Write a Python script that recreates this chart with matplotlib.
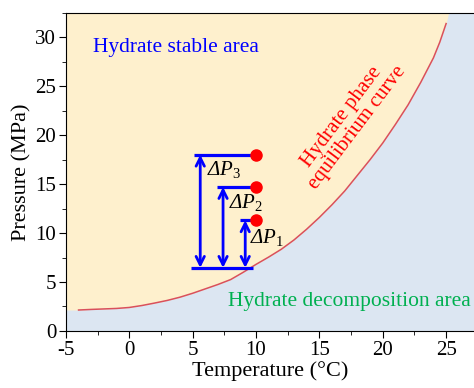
import numpy as np
import matplotlib
matplotlib.use("Agg")
import matplotlib.pyplot as plt
from matplotlib.ticker import MultipleLocator

plt.rcParams['font.family'] = ['Liberation Serif', 'DejaVu Serif']
plt.rcParams['mathtext.fontset'] = 'custom'
plt.rcParams['mathtext.it'] = 'Liberation Serif:italic'
plt.rcParams['mathtext.rm'] = 'Liberation Serif'
plt.rcParams['axes.unicode_minus'] = False

# equilibrium curve
temp = [-4, -3, -2, -1, 0, 1, 2, 3, 4, 5, 6, 7, 8, 9, 10, 11, 12,
        13, 14, 15, 16, 17, 18, 19, 20, 21, 22, 23, 24, 24.5, 25]
pressure = [2.14, 2.2, 2.25, 2.3, 2.4, 2.6, 2.85, 3.12, 3.45, 3.85, 4.3, 4.75,
            5.25, 6.0, 6.8, 7.55, 8.35, 9.3, 10.4, 11.6, 12.9, 14.3, 15.9,
            17.5, 19.2, 21.1, 23.1, 25.4, 27.9, 29.5, 31.4]

# pressure drops
base_p = 6.45
start_p = [18.0, 14.7, 11.3]
line_left = [5.1, 6.9, 8.7]
arrow_x = [5.6, 7.4, 9.15]
dot_t = [10, 10, 10]
labels = ['\u0394P$_\\mathit{3}$', '\u0394P$_\\mathit{2}$', '\u0394P$_\\mathit{1}$']
label_pos = [(6.1, 16.5), (7.9, 13.1), (9.55, 9.5)]

xmin, xmax = -5, 27.2
ymin, ymax = 0, 32.5

fig, ax = plt.subplots(figsize=(4.74, 3.88), dpi=100)
fig.subplots_adjust(left=0.139, right=1.0, bottom=0.147, top=0.967)

ax.set_facecolor('#DCE6F2')
# stable region above the curve (edges carried to the frame)
fx = np.r_[xmin, temp, 25.2]
fy = np.r_[pressure[0], pressure, ymax]
ax.fill_between(fx, fy, ymax, color='#FEF0CD', lw=0)
ax.plot(temp, pressure, color='#D9505C', lw=1.1)

# horizontal levels
for left, p in zip(line_left, start_p):
    ax.plot([left, 9.6], [p, p], color='blue', lw=2.3, solid_capstyle='butt')
ax.plot([4.9, 9.75], [base_p, base_p], color='blue', lw=2.3, solid_capstyle='butt')

for x, p in zip(arrow_x, start_p):
    ax.annotate('', xy=(x, base_p), xytext=(x, p),
                arrowprops=dict(arrowstyle='<->', color='blue', lw=2,
                                mutation_scale=15, shrinkA=0, shrinkB=0))

ax.plot(dot_t, start_p, 'o', color='red', ms=8, zorder=5)

for lab, (x, y) in zip(labels, label_pos):
    ax.text(x, y, lab, fontsize=15, fontstyle='italic', color='black',
            ha='left', va='center')

ax.text(-2.9, 29, 'Hydrate stable area', color='blue', fontsize=15.5, va='center')
ax.text(7.8, 3.0, 'Hydrate decomposition area', color='#00B050', fontsize=15.5, va='center')
ax.text(17.4, 21.3, 'Hydrate phase\nequilibrium curve', color='red', fontsize=15,
        rotation=53, ha='center', va='center', linespacing=1.0)

ax.set_xlim(xmin, xmax)
ax.set_ylim(ymin, ymax)
ax.xaxis.set_major_locator(MultipleLocator(5))
ax.xaxis.set_minor_locator(MultipleLocator(2.5))
ax.yaxis.set_major_locator(MultipleLocator(5))
ax.yaxis.set_minor_locator(MultipleLocator(2.5))
ax.tick_params(which='both', direction='out', labelsize=15)
ax.tick_params(which='major', length=5, pad=2)
ax.tick_params(which='minor', length=3)
ax.spines['right'].set_visible(False)
ax.set_xlabel('Temperature (\u00b0C)', fontsize=16, labelpad=1)
ax.set_ylabel('Pressure (MPa)', fontsize=16, labelpad=3)

fig.savefig('out.png', dpi=100)
